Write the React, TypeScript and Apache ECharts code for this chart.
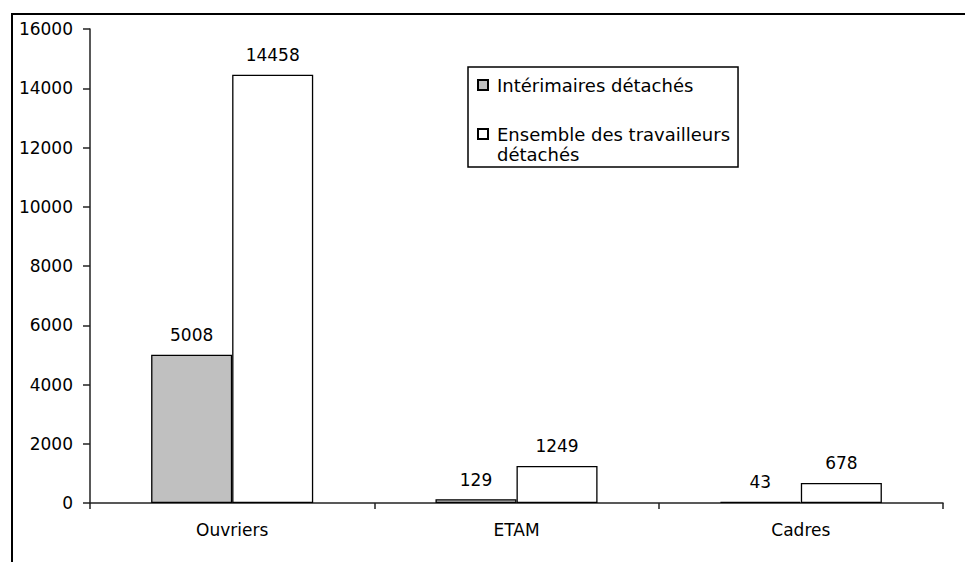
import React, { useEffect, useRef } from "react";
import * as echarts from "echarts";

const categories = ["Ouvriers", "ETAM", "Cadres"];
const interimValues = [5008, 129, 43];
const ensembleValues = [14458, 1249, 678];
const seriesNames = ["Intérimaires détachés", "Ensemble des travailleurs détachés"];
const legendLabels = ["Intérimaires détachés", "\nEnsemble des travailleurs\ndétachés"];
const yMin = 0;
const yMax = 16000;
const yInterval = 2000;

const FONT = "DejaVu Sans";

export default function App() {
  const ref = useRef<HTMLDivElement>(null);
  useEffect(() => {
    if (!ref.current) return;
    const chart = echarts.init(ref.current, undefined, { renderer: "svg" });
    const labelStyle = {
      show: true,
      position: "top" as const,
      distance: 11,
      color: "#000",
      fontFamily: FONT,
      fontSize: 17,
      lineHeight: 17,
    };
    chart.setOption({
      animation: false,
      backgroundColor: "#fff",
      grid: { left: 90, right: 22, top: 29, bottom: 59, containLabel: false },
      legend: {
        orient: "vertical",
        left: 468,
        top: 67,
        padding: [8, 8, 3, 9],
        itemGap: 9,
        itemWidth: 10,
        itemHeight: 10,
        icon: "rect",
        backgroundColor: "#fff",
        borderColor: "#000",
        borderWidth: 1.5,
        borderRadius: 0,
        textStyle: { fontFamily: FONT, fontSize: 18, lineHeight: 20, color: "#000", padding: [0, 0, 0, 4] },
        formatter: (name: string) => legendLabels[seriesNames.indexOf(name)] ?? name,
        data: seriesNames,
      },
      xAxis: {
        type: "category",
        data: categories,
        axisLine: { lineStyle: { color: "#222", width: 1.5 } },
        axisTick: { show: true, alignWithLabel: false, length: 6, lineStyle: { color: "#222", width: 1.5 } },
        axisLabel: { color: "#000", fontFamily: FONT, fontSize: 17, lineHeight: 17, margin: 18 },
        splitLine: { show: false },
      },
      yAxis: {
        type: "value",
        min: yMin,
        max: yMax,
        interval: yInterval,
        axisLine: { show: true, lineStyle: { color: "#222", width: 1.5 } },
        axisTick: { show: true, length: 7, lineStyle: { color: "#222", width: 1.5 } },
        axisLabel: {
          color: "#000",
          fontFamily: FONT,
          fontSize: 17,
          margin: 17,
          formatter: (v: number) => String(v),
        },
        splitLine: { show: false },
      },
      series: [
        {
          name: seriesNames[0],
          type: "bar",
          data: interimValues,
          barGap: "0%",
          barCategoryGap: "43%",
          itemStyle: { color: "#c0c0c0", borderColor: "#000", borderWidth: 1.3 },
          label: labelStyle,
        },
        {
          name: seriesNames[1],
          type: "bar",
          data: ensembleValues,
          barGap: "0%",
          barCategoryGap: "43%",
          itemStyle: { color: "#fff", borderColor: "#000", borderWidth: 1.3 },
          label: labelStyle,
        },
      ],
      graphic: [
        { type: "line", shape: { x1: 12, y1: 14, x2: 12, y2: 562 }, style: { stroke: "#000", lineWidth: 2 } },
        { type: "line", shape: { x1: 11, y1: 14, x2: 965, y2: 14 }, style: { stroke: "#000", lineWidth: 2 } },
      ],
    });
    return () => chart.dispose();
  }, []);
  return (
    <div
      ref={ref}
      style={{ position: "absolute", left: 0, top: 0, width: 965, height: 562 }}
    />
  );
}
